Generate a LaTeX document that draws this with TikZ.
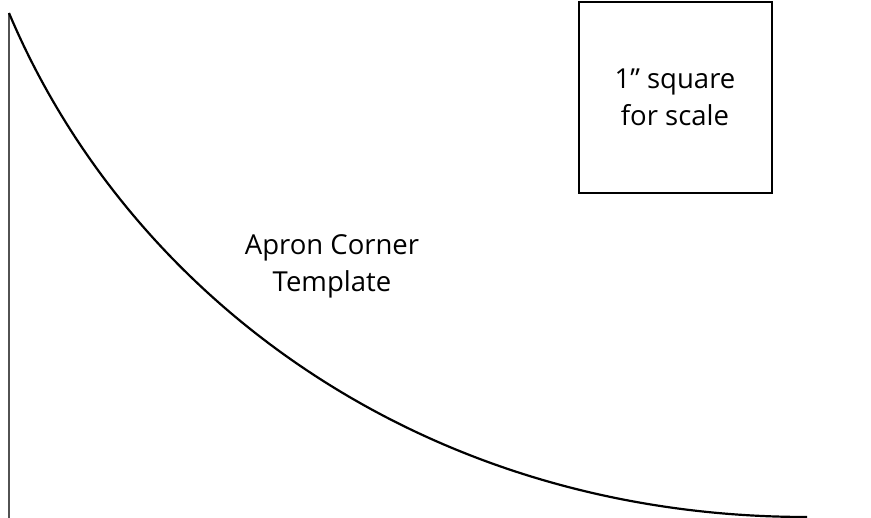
\documentclass[tikz,border=0pt]{standalone}
\usepackage{fontspec}
\setmainfont{Open Sans}
\begin{document}
\begin{tikzpicture}[x=1pt,y=-1pt,
  label text/.style={font=\fontsize{27.5}{37}\selectfont, align=center, inner sep=0pt},
  edge line/.style={line width=2pt, draw=black!68},
  curve line/.style={line width=2.2pt, black},
  scale box/.style={draw=black, line width=2.2pt, minimum width=193pt, minimum height=191pt, inner sep=0pt}]
\useasboundingbox[fill=white] (0,0) rectangle (871,518);
\coordinate (top) at (9,13);
\coordinate (bot) at (9,518);
\coordinate (cend) at (807,517);
\draw[edge line] (top) -- (bot);
\draw[curve line] (top) .. controls (128,295) and (420,517) .. (cend);
\node[scale box] (sq) at (675.5,97.5) {};
\node[label text] (sqtxt) at (675,97) {1\textquotedblright\ square\\for scale};
\node[label text] (apron) at (332,266) {Apron Corner\\Template};
\end{tikzpicture}
\end{document}
